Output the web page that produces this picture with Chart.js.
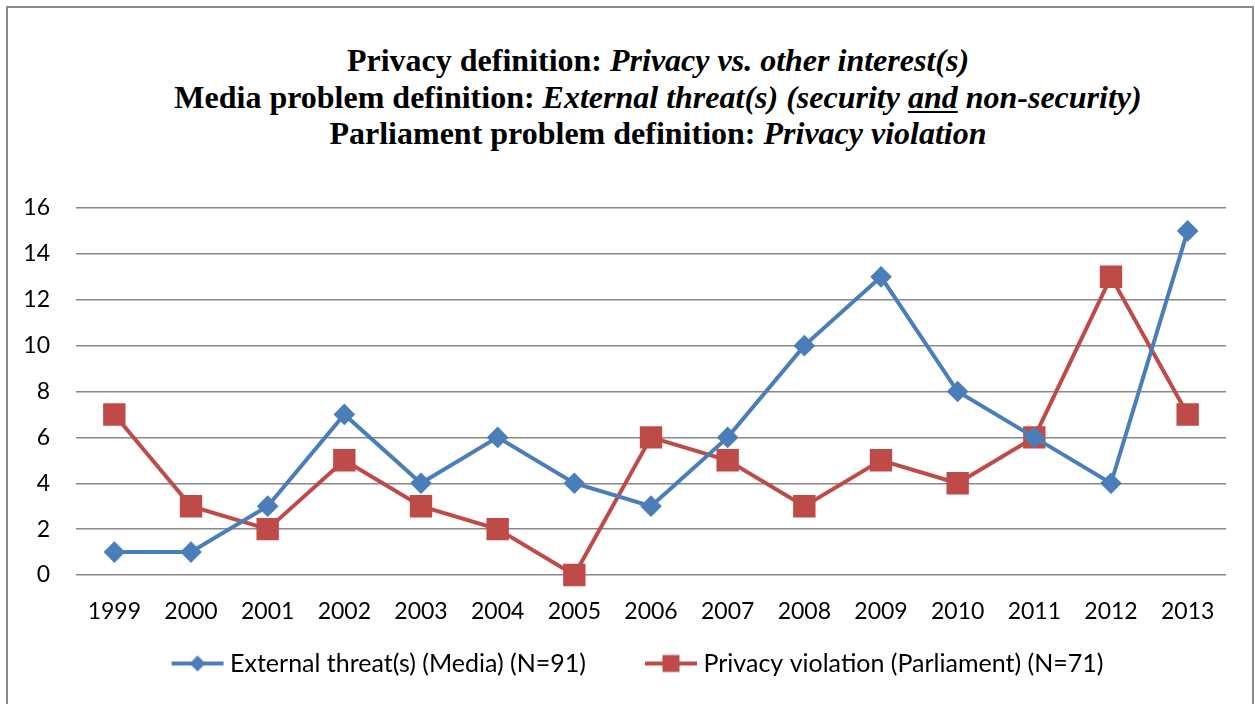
<!DOCTYPE html>
<html lang="en">
<head>
<meta charset="UTF-8">
<title>Privacy definition chart</title>
<script src="https://cdn.jsdelivr.net/npm/chart.js@4.4.1/dist/chart.umd.min.js"></script>
<style>
  body { margin: 0; background: #fff; width: 1255px; height: 704px; overflow: hidden; position: relative; }
  .frame { position: absolute; left: 6px; top: 6px; width: 1244px; height: 730px; border: 2px solid #8a8a8a; }
  .title { position: absolute; left: 36px; width: 1244px; top: 42px; text-align: center;
           font-family: "Liberation Serif", "Times New Roman", serif; font-weight: bold;
           font-size: 32px; line-height: 36.5px; color: #000; }
  .title u { text-decoration-thickness: 2px; text-underline-offset: 3px; }
  #chart { position: absolute; left: 0; top: 0; }
</style>
</head>
<body>
  <div class="frame"></div>
  <div class="title">
    <div>Privacy definition: <i>Privacy vs. other interest(s)</i></div>
    <div>Media problem definition: <i>External threat(s) (security <u>and</u> non-security)</i></div>
    <div>Parliament problem definition: <i>Privacy violation</i></div>
  </div>
  <canvas id="chart" width="1255" height="704"></canvas>

<script>
// data
const years = ["1999", "2000", "2001", "2002", "2003", "2004", "2005", "2006",
               "2007", "2008", "2009", "2010", "2011", "2012", "2013"];
const mediaThreat = [1, 1, 3, 7, 4, 6, 4, 3, 6, 10, 13, 8, 6, 4, 15];
const parliamentPrivacy = [7, 3, 2, 5, 3, 2, 0, 6, 5, 3, 5, 4, 6, 13, 7];
const seriesNames = ["External threat(s) (Media) (N=91)", "Privacy violation (Parliament) (N=71)"];

const BLUE = "#4a7ebb";
const RED = "#be4b48";
const labelFont = "Lato, 'Open Sans', sans-serif";

// legend swatch: a short line with the marker in the middle.
// image is wider than the legend box so the line ends close to the text
const SW_BOX = 95, SW_IMG = 111;
function legendSwatch(color, shape) {
    const c = document.createElement("canvas");
    c.width = SW_IMG; c.height = 22;
    const g = c.getContext("2d");
    const x0 = SW_IMG - 54, x1 = SW_IMG - 2, mid = (x0 + x1) / 2;
    g.strokeStyle = color;
    g.lineWidth = 4;
    g.beginPath();
    g.moveTo(x0, 11);
    g.lineTo(x1, 11);
    g.stroke();
    g.fillStyle = color;
    g.beginPath();
    if (shape === "diamond") {
        g.moveTo(mid, 3); g.lineTo(mid + 8, 11); g.lineTo(mid, 19); g.lineTo(mid - 8, 11);
    } else {
        g.rect(mid - 8.5, 2.5, 17, 17);
    }
    g.closePath();
    g.fill();
    return c;
}
const swatches = [legendSwatch(BLUE, "diamond"), legendSwatch(RED, "square")];

new Chart(document.getElementById("chart"), {
    type: "line",
    data: {
        labels: years,
        datasets: [
            {
                label: seriesNames[0],
                data: mediaThreat,
                borderColor: BLUE,
                backgroundColor: BLUE,
                borderWidth: 4,
                pointStyle: "rectRot",
                pointRadius: 8,
                pointHoverRadius: 8,
                tension: 0,
                clip: false
            },
            {
                label: seriesNames[1],
                data: parliamentPrivacy,
                borderColor: RED,
                backgroundColor: RED,
                borderWidth: 4,
                pointStyle: "rect",
                pointRadius: 13,
                pointHoverRadius: 13,
                tension: 0,
                clip: false
            }
        ]
    },
    options: {
        responsive: false,
        animation: false,
        layout: { padding: { top: 208, left: 0, right: 29, bottom: 18 } },
        plugins: {
            title: { display: false },
            tooltip: { enabled: false },
            legend: {
                position: "bottom",
                labels: {
                    usePointStyle: true,
                    pointStyleWidth: SW_BOX,
                    padding: 10,
                    color: "#000",
                    font: { family: labelFont, size: 25 },
                    generateLabels(chart) {
                        return Chart.defaults.plugins.legend.labels.generateLabels(chart)
                            .map((item, i) => Object.assign(item, { pointStyle: swatches[i] }));
                    }
                }
            }
        },
        scales: {
            x: {
                offset: true,
                grid: { display: false, drawTicks: false },
                border: { display: false },
                ticks: { color: "#000", font: { family: labelFont, size: 23 }, padding: 23, maxRotation: 0 },
                afterFit(scale) { scale.height = 66; }
            },
            y: {
                min: 0,
                max: 16,
                ticks: { stepSize: 2, color: "#000", font: { family: labelFont, size: 23 }, padding: 26 },
                grid: { color: "#888", lineWidth: 1.5, drawTicks: false },
                border: { display: false },
                afterFit(scale) { scale.width = 76; }
            }
        }
    }
});
</script>
</body>
</html>
